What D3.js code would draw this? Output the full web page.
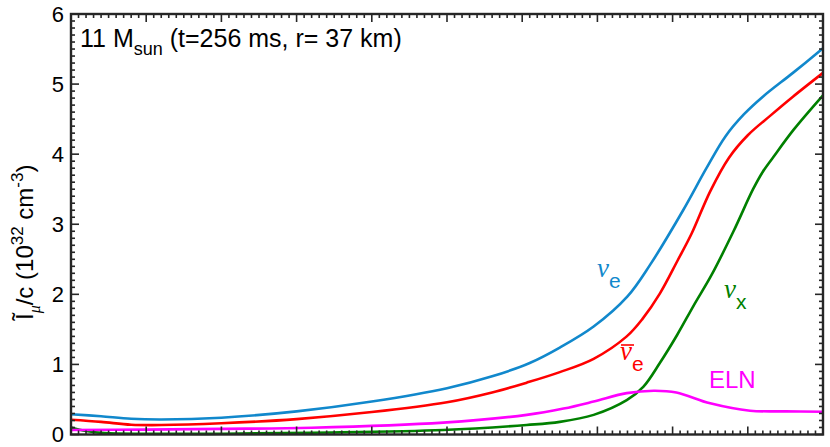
<!DOCTYPE html>
<html><head><meta charset="utf-8">
<script src="https://cdn.jsdelivr.net/npm/d3@7"></script>
<style>
body{margin:0;background:#fff;}
text{font-family:"Liberation Sans",Arial,Helvetica,sans-serif;}
</style></head>
<body><svg id="c" width="830" height="447"></svg>
<script>
// ---- data (x in plot units 0..10, y in 1e32 cm^-3) ----
const nueX  = [0,0.4,0.8,1.2,2,3,4,5,5.6,6.1,6.5,6.95,7.4,7.7,8.14,8.45,8.7,8.95,9.2,9.6,10];
const nueY  = [0.29,0.26,0.225,0.215,0.24,0.33,0.47,0.66,0.83,1.02,1.24,1.54,1.97,2.42,3.2,3.8,4.25,4.57,4.82,5.16,5.51];
const nuebX = [0,0.4,0.8,1.2,2,3,4,5,5.6,6.06,6.5,6.95,7.39,7.6,7.83,8.07,8.25,8.5,8.75,9.0,9.3,9.6,10];
const nuebY = [0.21,0.18,0.14,0.135,0.16,0.22,0.32,0.46,0.6,0.74,0.89,1.08,1.4,1.65,2.01,2.49,2.86,3.47,3.95,4.27,4.55,4.82,5.16];
const nuxX  = [0,0.2,0.45,1,2,3.2,4.95,6.06,6.5,6.95,7.39,7.61,7.83,8.06,8.28,8.52,8.81,9.07,9.2,9.34,9.61,10];
const nuxY  = [0.1,0.05,0.02,0.01,0.01,0.026,0.064,0.136,0.18,0.28,0.49,0.68,1.02,1.42,1.84,2.28,2.9,3.5,3.75,3.96,4.35,4.84];
const elnX  = [0,1,2,3.2,4.95,6.06,6.55,6.95,7.39,7.75,8.05,8.5,9.03,9.5,10];
const elnY  = [0.064,0.07,0.08,0.097,0.17,0.28,0.37,0.47,0.59,0.625,0.6,0.445,0.34,0.33,0.325];
const yTicks = [0,1,2,3,4,5,6];
const xMajor = d3.range(0,10.01,1);

const svg = d3.select("#c");
const L=71, R=823, T=14, B=434.5;
const x = d3.scaleLinear().domain([0,10]).range([L,R]);
const y = d3.scaleLinear().domain([0,6]).range([B,T]);
const axC = "#262626";

const series = [
  {xs:nueX, ys:nueY, c:"#1188cc"},
  {xs:nuebX, ys:nuebY, c:"#ff0000"},
  {xs:nuxX, ys:nuxY, c:"#008000"},
  {xs:elnX, ys:elnY, c:"#ff00ff"}
];
const line = d3.line().x(d=>x(d[0])).y(d=>y(d[1])).curve(d3.curveCatmullRom.alpha(0.5));
const gL = svg.append("g");
[series[2],series[3],series[1],series[0]].forEach(s=>{
  gL.append("path").datum(s.xs.map((v,i)=>[v,s.ys[i]]))
    .attr("d",line).attr("fill","none").attr("stroke",s.c).attr("stroke-width",2.6);
});

// axes with inward ticks
const g = svg.append("g");
const xMinor = d3.range(0,10.001,0.1).filter(v=>Math.abs(v-Math.round(v))>1e-6);
const yMinor = d3.range(0,6.001,0.1).filter(v=>Math.abs(v-Math.round(v))>1e-6);
function tick(x1,y1,x2,y2,w){g.append("line").attr("x1",x1).attr("y1",y1).attr("x2",x2).attr("y2",y2).attr("stroke",axC).attr("stroke-width",w);}
xMajor.forEach(v=>{tick(x(v),B,x(v),B-8,1.6);tick(x(v),T,x(v),T+8,1.6);});
xMinor.forEach(v=>{tick(x(v),B,x(v),B-4,1.6);tick(x(v),T,x(v),T+4,1.6);});
yTicks.forEach(v=>{tick(L,y(v),L+8,y(v),1.6);tick(R,y(v),R-8,y(v),1.6);});
yMinor.forEach(v=>{tick(L,y(v),L+4,y(v),1.6);tick(R,y(v),R-4,y(v),1.6);});
g.append("rect").attr("x",L).attr("y",T).attr("width",R-L).attr("height",B-T)
  .attr("fill","none").attr("stroke",axC).attr("stroke-width",2.4);

// y tick labels
svg.append("g").selectAll("text").data(yTicks).join("text")
  .attr("x",L-7).attr("y",d=>y(d)).attr("dy","0.36em").attr("text-anchor","end")
  .attr("font-size",22).attr("fill","#000").text(d=>d);

// y label
const yl = svg.append("text").attr("transform","translate(33,320) rotate(-90)")
  .attr("text-anchor","start").attr("font-size",24).attr("fill","#000");
yl.append("tspan").text("Ĩ");
yl.append("tspan").attr("dy",7).attr("font-size",16).attr("font-style","italic").attr("font-family","Liberation Serif,serif").text("μ");
yl.append("tspan").attr("dy",-7).text("/c (10");
yl.append("tspan").attr("dy",-10).attr("font-size",17).text("32");
yl.append("tspan").attr("dy",10).text(" cm");
yl.append("tspan").attr("dy",-10).attr("font-size",17).text("-3");
yl.append("tspan").attr("dy",10).text(")");

// title inside
const tt = svg.append("text").attr("x",80).attr("y",47).attr("font-size",25).attr("fill","#000");
tt.append("tspan").text("11 M");
tt.append("tspan").attr("dy",8).attr("font-size",18).text("sun");
tt.append("tspan").attr("dy",-8).text(" (t=256 ms, r= 37 km)");

// series labels
function nuLabel(xp,yp,sub,color,bar){
  const t = svg.append("text").attr("x",xp).attr("y",yp).attr("fill",color);
  t.append("tspan").attr("font-family","Liberation Serif,serif").attr("font-style","italic").attr("font-size",27).text("ν");
  t.append("tspan").attr("dy",11).attr("font-size",21).text(sub);
  if(bar){svg.append("line").attr("x1",xp+1).attr("x2",xp+14).attr("y1",yp-15).attr("y2",yp-15).attr("stroke",color).attr("stroke-width",1.6);}
}
nuLabel(597,277,"e","#1188cc",false);
nuLabel(620,360,"e","#ff0000",true);
nuLabel(724,298,"x","#008000",false);
svg.append("text").attr("x",709).attr("y",388).attr("font-size",24).attr("fill","#ff00ff").text("ELN");
</script></body></html>
